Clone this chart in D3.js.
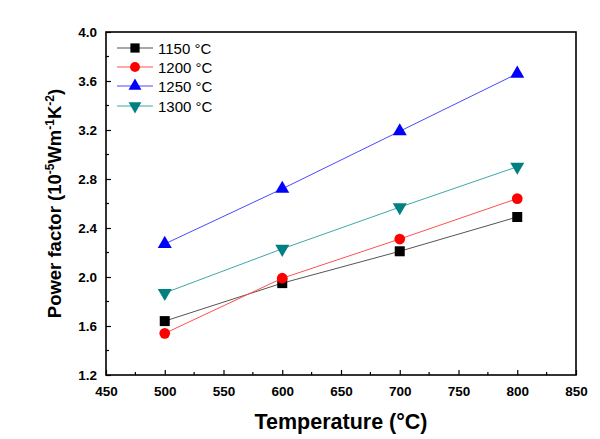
<!DOCTYPE html>
<html><head><meta charset="utf-8">
<script src="https://cdn.jsdelivr.net/npm/d3@7"></script>
<style>body{margin:0;background:#fff;}svg{display:block;font-family:"Liberation Sans",Arial,sans-serif;}</style>
</head><body><svg id="c" width="600" height="439"></svg>
<script>
const temps = [500, 600, 700, 800];
const seriesNames = ["1150 °C", "1200 °C", "1250 °C", "1300 °C"];
const s1150 = [1.64, 1.95, 2.21, 2.49];
const s1200 = [1.54, 1.99, 2.31, 2.64];
const s1250 = [2.27, 2.72, 3.19, 3.66];
const s1300 = [1.87, 2.23, 2.57, 2.90];
const xTicks = [450, 500, 550, 600, 650, 700, 750, 800, 850];
const yTicks = [1.2, 1.6, 2.0, 2.4, 2.8, 3.2, 3.6, 4.0];

const styles = [
  {marker: d3.symbolSquare, size: 100, fill: "#000000", line: "#555555"},
  {marker: d3.symbolCircle, size: 90, fill: "#ff0000", line: "#ff5050"},
  {marker: d3.symbolTriangle, size: 85, fill: "#0000ff", line: "#4a4aff"},
  {marker: "down", size: 85, fill: "#008080", line: "#40a8a8"}
];
const seriesVals = [s1150, s1200, s1250, s1300];

const svg = d3.select("#c");
const L = 106, R = 576, T = 32, B = 375;
const x = d3.scaleLinear().domain([450, 850]).range([L, R]);
const y = d3.scaleLinear().domain([1.2, 4.0]).range([B, T]);

svg.append("rect").attr("x", L).attr("y", T).attr("width", R - L).attr("height", B - T)
  .attr("fill", "none").attr("stroke", "#000").attr("stroke-width", 1.6);

const xAxis = d3.axisBottom(x).tickValues(xTicks).tickSize(-5).tickFormat(d3.format("d")).tickPadding(11);
const gx = svg.append("g").attr("transform", `translate(0,${B})`).call(xAxis);
gx.select(".domain").remove();
gx.selectAll("line").attr("stroke-width", 1.2);
gx.selectAll("text").attr("font-size", 13.5).attr("font-weight", "bold").attr("fill", "#000")
  .attr("font-family", "'Liberation Sans',Arial,sans-serif");
const xMinor = d3.range(475, 850, 50);
svg.append("g").selectAll("line").data(xMinor).join("line")
  .attr("x1", d => x(d)).attr("x2", d => x(d)).attr("y1", B).attr("y2", B - 3)
  .attr("stroke", "#000").attr("stroke-width", 1.2);

const yAxis = d3.axisLeft(y).tickValues(yTicks).tickSize(-5).tickFormat(d3.format(".1f")).tickPadding(9);
const gy = svg.append("g").attr("transform", `translate(${L},0)`).call(yAxis);
gy.select(".domain").remove();
gy.selectAll("line").attr("stroke-width", 1.2);
gy.selectAll("text").attr("font-size", 13.5).attr("font-weight", "bold").attr("fill", "#000")
  .attr("font-family", "'Liberation Sans',Arial,sans-serif");
const yMinor = d3.range(1.4, 4.0, 0.4);
svg.append("g").selectAll("line").data(yMinor).join("line")
  .attr("x1", L).attr("x2", L + 3).attr("y1", d => y(d)).attr("y2", d => y(d))
  .attr("stroke", "#000").attr("stroke-width", 1.2);

function sym(st, scale) {
  const s = st.size * (scale || 1);
  if (st.marker === "down") return d3.symbol().type(d3.symbolTriangle).size(s);
  return d3.symbol().type(st.marker).size(s);
}

seriesVals.forEach((vals, i) => {
  const st = styles[i];
  const pts = temps.map((t, j) => [t, vals[j]]);
  svg.append("path").datum(pts)
    .attr("d", d3.line().x(d => x(d[0])).y(d => y(d[1])))
    .attr("fill", "none").attr("stroke", st.line).attr("stroke-width", 1);
  svg.append("g").selectAll("path").data(pts).join("path")
    .attr("d", sym(st)())
    .attr("transform", d => `translate(${x(d[0])},${y(d[1])})` + (st.marker === "down" ? " rotate(180)" : ""))
    .attr("fill", st.fill);
});

const legY = [48, 67, 86, 106];
seriesNames.forEach((name, i) => {
  const st = styles[i];
  const g = svg.append("g").attr("transform", `translate(0,${legY[i]})`);
  g.append("line").attr("x1", 117).attr("x2", 153).attr("y1", 0).attr("y2", 0)
    .attr("stroke", i === 0 ? "#888" : st.line).attr("stroke-width", i === 0 ? 1.5 : 1);
  g.append("path").attr("d", sym(st, 0.85)())
    .attr("transform", `translate(135,0)` + (st.marker === "down" ? " rotate(180)" : ""))
    .attr("fill", st.fill);
  g.append("text").attr("x", 158).attr("y", 5.5).attr("font-size", 15).attr("fill", "#000").text(name);
});

svg.append("text").attr("x", (L + R) / 2).attr("y", 429).attr("text-anchor", "middle")
  .attr("font-size", 21.5).attr("font-weight", "bold").text("Temperature (°C)");

const yt = svg.append("text").attr("transform", `translate(61,${(T + B) / 2}) rotate(-90)`)
  .attr("text-anchor", "middle").attr("font-size", 18.5).attr("font-weight", "bold");
yt.append("tspan").text("Power factor (10");
yt.append("tspan").attr("dy", -7).attr("font-size", 12).text("-5");
yt.append("tspan").attr("dy", 7).text("Wm");
yt.append("tspan").attr("dy", -7).attr("font-size", 12).text("-1");
yt.append("tspan").attr("dy", 7).text("K");
yt.append("tspan").attr("dy", -7).attr("font-size", 12).text("-2");
yt.append("tspan").attr("dy", 7).text(")");
</script></body></html>
